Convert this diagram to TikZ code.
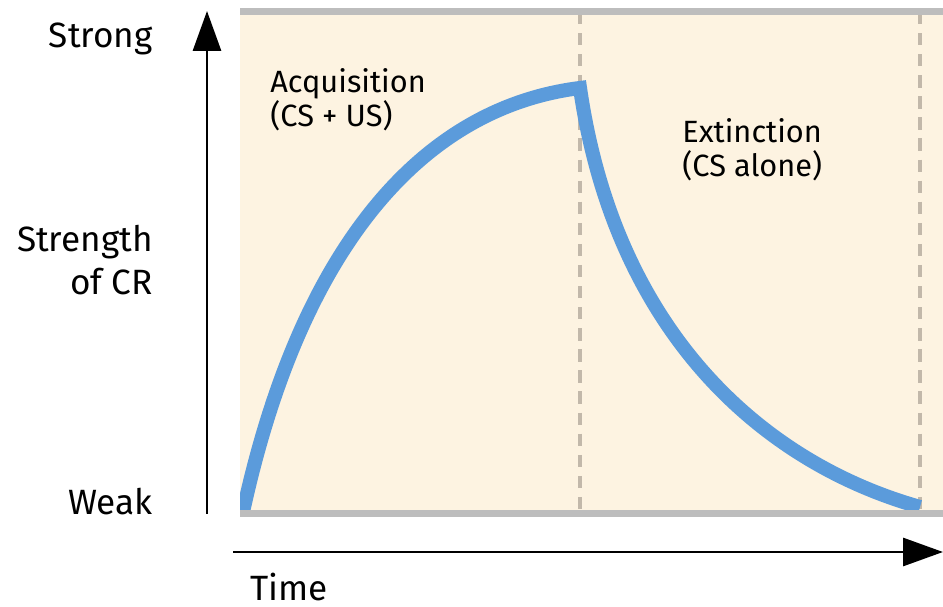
\documentclass[tikz,border=0pt]{standalone}
\usepackage{fontspec}
\setmainfont{Fira Sans}
\definecolor{panelfill}{HTML}{FDF3E1}
\definecolor{bargray}{HTML}{BDBDBD}
\definecolor{dashgray}{HTML}{C2B8AA}
\definecolor{curveblue}{HTML}{5B9BDB}
\usetikzlibrary{arrows.meta}
\begin{document}
\begin{tikzpicture}[
    x=0.02cm, y=-0.02cm,
    axis/.style={-{Triangle[length=0.8cm, width=0.56cm]}, line width=1.7pt},
    bar/.style={draw=bargray, line width=4pt},
    phase/.style={dashgray, line width=1.8pt, dash pattern=on 7pt off 5pt},
    curve/.style={curveblue, line width=8pt, line join=miter},
    axislabel/.style={font=\fontsize{20}{24.5}\selectfont, inner sep=0pt},
    label/.style={font=\fontsize{17.5}{19.4}\selectfont, inner sep=0pt}
]
\useasboundingbox (0,0) rectangle (943,607);
% background panel
\fill[panelfill] (240,12) rectangle (943,513);
\draw[phase] (580,12) -- (580,513);
\draw[phase] (920,12) -- (920,513);
% learning curve
\begin{scope}
  \clip (240,12) rectangle (943,513);
  \draw[curve] (243,512) .. controls (300,250) and (420,108) .. (580,88)
               .. controls (615,330) and (760,462) .. (920,507);
\end{scope}
\draw[bar] (240,11.5) -- (943,11.5);
\draw[bar] (240,513.5) -- (943,513.5);
% axes
\coordinate (y0) at (207,514);
\coordinate (y1) at (207,11);
\coordinate (x0) at (233,552);
\coordinate (x1) at (943,552);
\draw[axis] (y0) -- (y1);
\draw[axis] (x0) -- (x1);
% axis labels (base = last line)
\node[axislabel, anchor=base east] (strong) at (153,48) {Strong};
\node[axislabel, anchor=base east, align=right] (strength) at (153,295) {Strength\\of CR};
\node[axislabel, anchor=base east] (weak) at (153,515) {Weak};
\node[axislabel, anchor=base west] (time) at (250,600) {Time};
% phase labels
\node[label, anchor=base west, align=left] (acq) at (270,127) {Acquisition\\(CS + US)};
\node[label, anchor=base west, align=left] (ext) at (682,177) {Extinction\\(CS alone)};
\end{tikzpicture}
\end{document}
